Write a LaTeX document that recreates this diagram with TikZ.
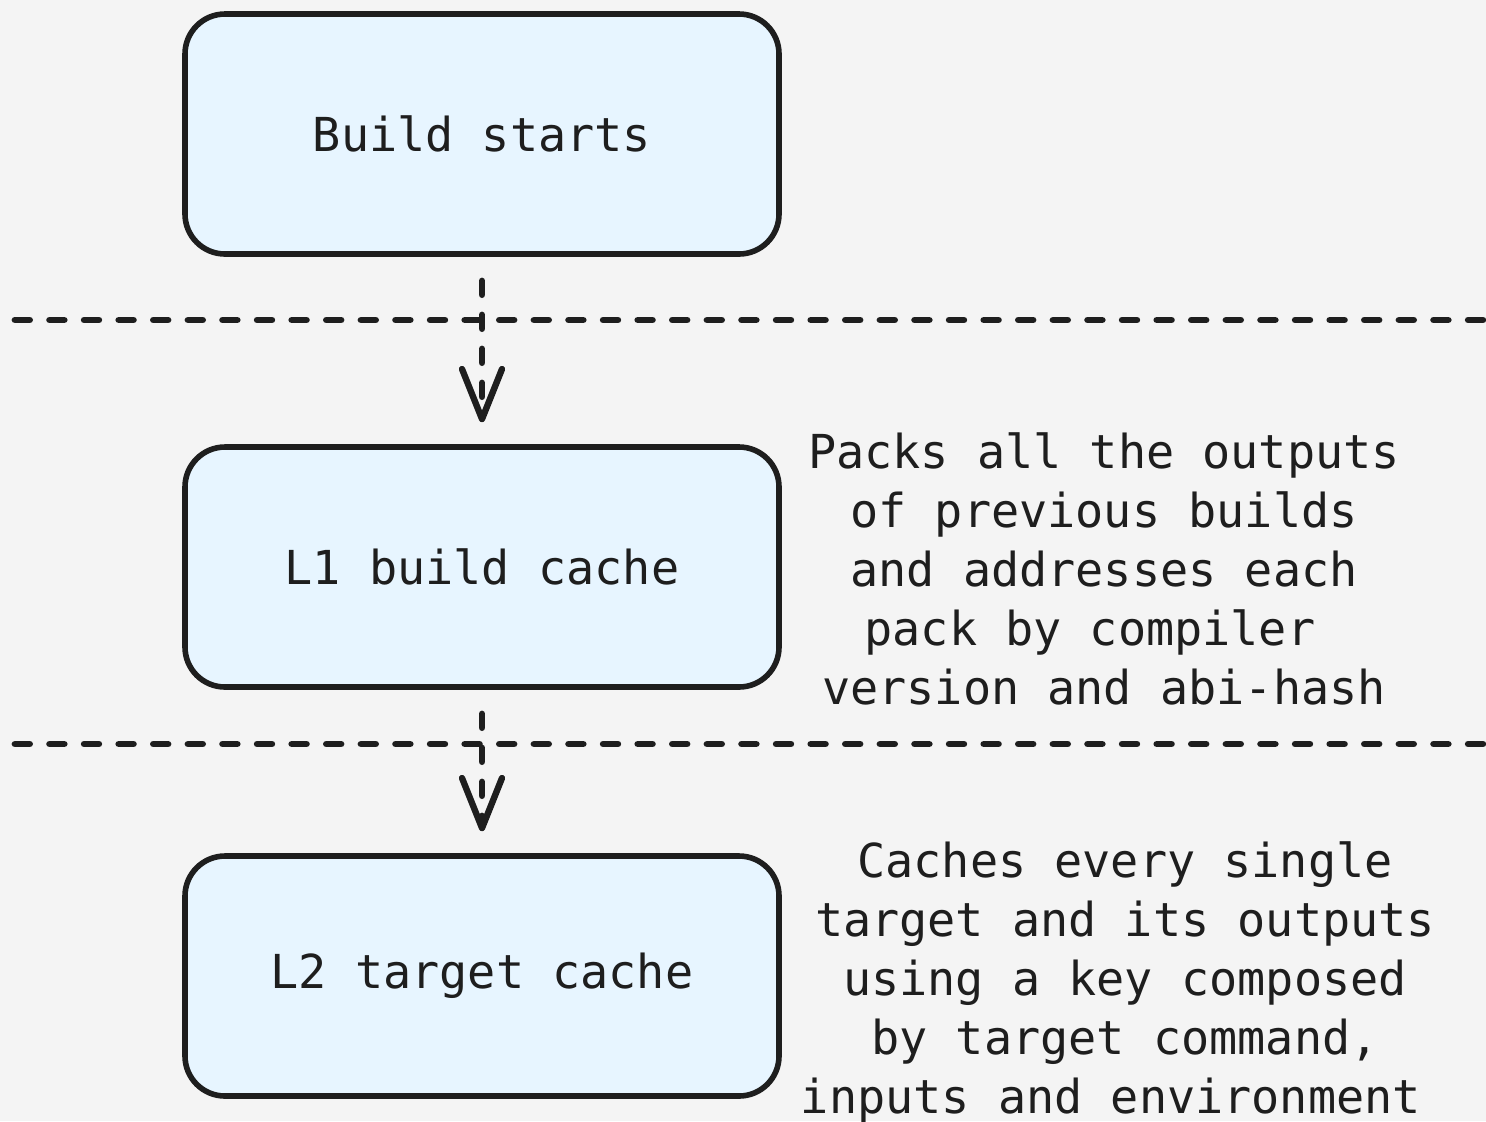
\documentclass[tikz,border=0pt]{standalone}
\usepackage{fontspec}
\setmonofont{DejaVu Sans Mono}
\usetikzlibrary{arrows.meta}
\definecolor{bg}{HTML}{F4F4F4}
\definecolor{ink}{HTML}{1E1E1E}
\definecolor{boxfill}{HTML}{E7F5FF}
\begin{document}
\begin{tikzpicture}[x=0.5pt,y=-0.5pt,
  txt/.style={font=\ttfamily\fontsize{23.4}{29.5}\selectfont, text=ink},
  box/.style={txt, draw=ink, line width=2.8pt, fill=boxfill, rounded corners=20pt,
    minimum width=297pt, minimum height=120pt, inner sep=0pt},
  note/.style={txt, align=center, inner sep=0pt},
  divider/.style={draw=ink, line width=3.4pt, line cap=round, dash pattern=on 7.3pt off 10pt},
  flow/.style={draw=ink, line width=3.2pt, line cap=round, dash pattern=on 7pt off 10pt,
    -{Straight Barb[length=25pt,width=20pt,line cap=round,line join=round]}}]
\fill[bg] (0,0) rectangle (1486,1121);
\useasboundingbox (0,0) rectangle (1486,1121);
\begin{scope}
\clip (0,0) rectangle (1486,1121);
\coordinate (d1a) at (15,320);
\coordinate (d1b) at (1490,320);
\coordinate (d2a) at (15,744);
\coordinate (d2b) at (1490,744);
\draw[divider] (d1a) -- (d1b);
\draw[divider] (d2a) -- (d2b);

\node[box] (start) at (482,134) {Build starts};
\node[box] (l1) at (482,567) {L1 build cache};
\node[box] (l2) at (482,976) {L2 target cache};

\draw[flow] ([yshift=-12pt]start.south) -- ([yshift=11pt]l1.north);
\draw[flow] ([yshift=-12pt]l1.south) -- ([yshift=11pt]l2.north);

\node[note] (n1) at (1104,569) {Packs all the outputs\\of previous builds\\and addresses each\\pack by compiler\hphantom{x}\\version and abi-hash};
\node[note] (n2) at (1125,982) {Caches every single\\target and its outputs\\using a key composed\\by target command,\\inputs and environment\hphantom{x}};
\end{scope}
\end{tikzpicture}
\end{document}
